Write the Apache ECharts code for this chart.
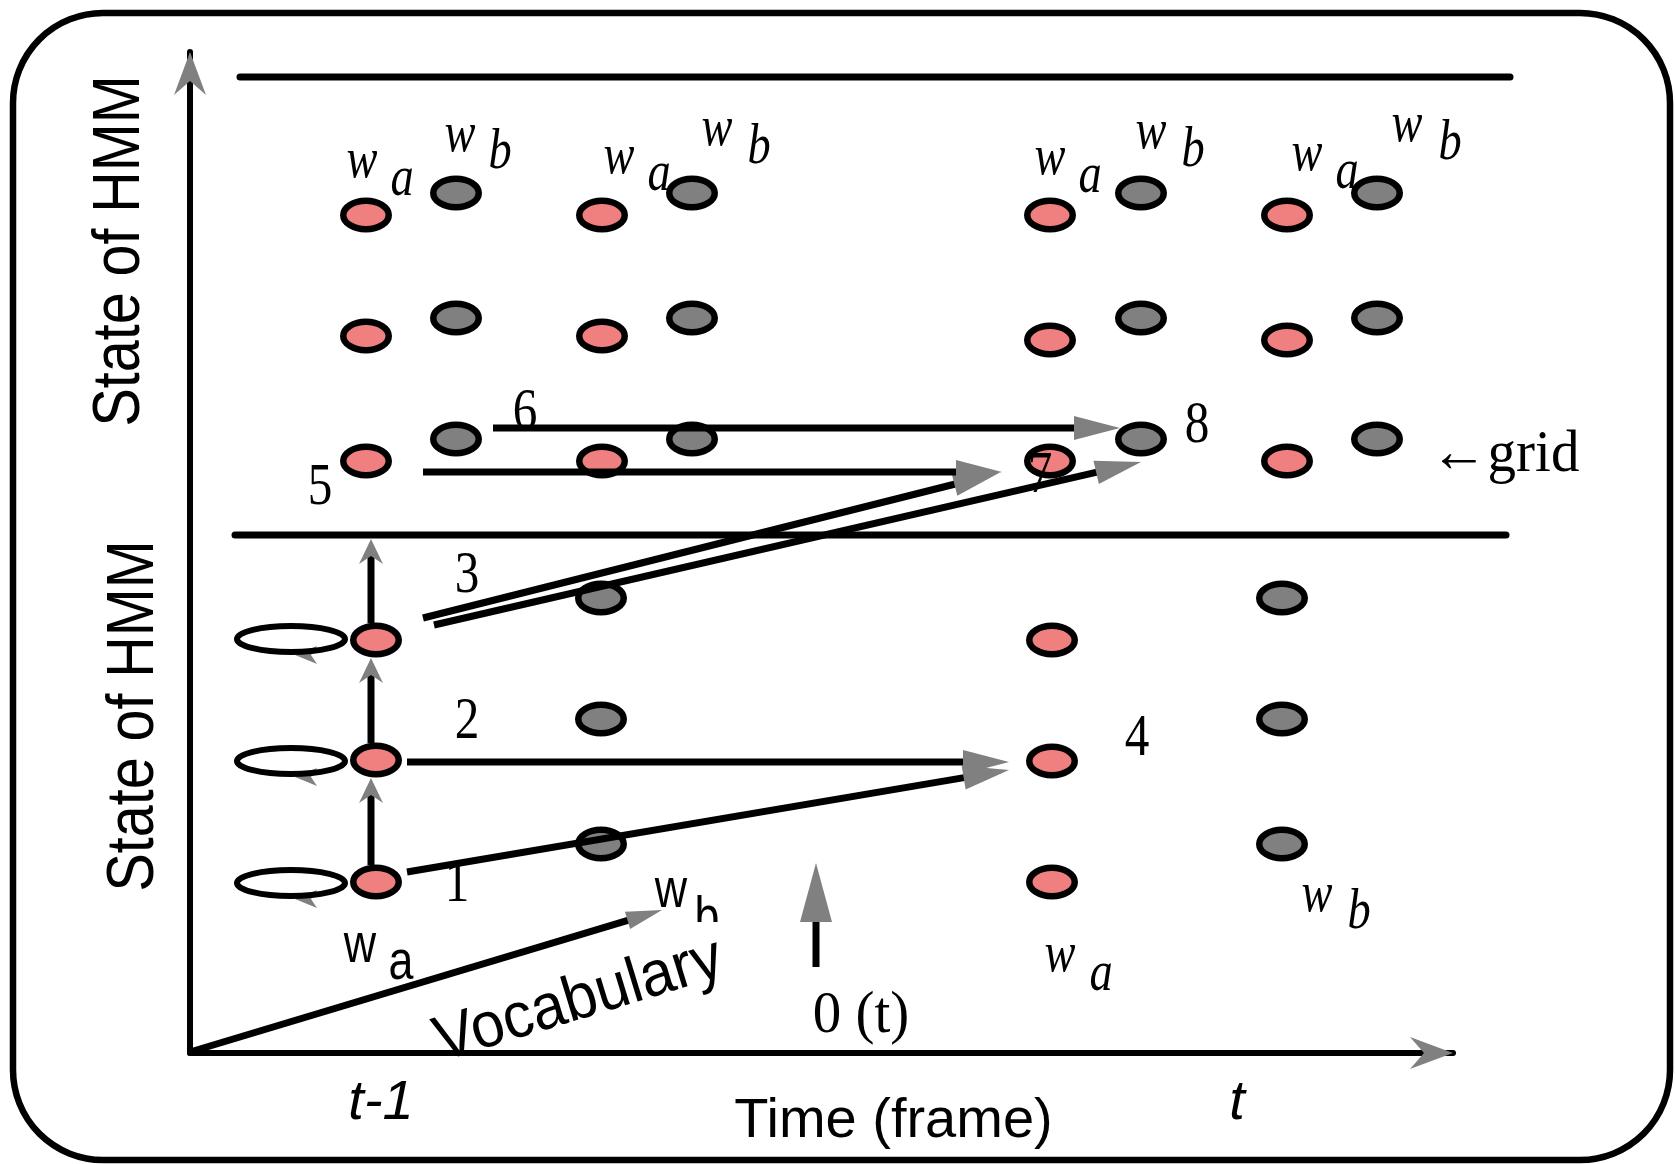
<!DOCTYPE html>
<html><head><meta charset="utf-8">
<script src="https://cdn.jsdelivr.net/npm/echarts@6/dist/echarts.min.js"></script>
<style>html,body{margin:0;padding:0;background:#fff}#chart{width:1675px;height:1164px}</style>
</head><body><div id="chart"></div>
<script>
// ---- Diagram data (plot units: x = time-frame position, y = HMM state position) ----
const timeTickValues = [191, 1047];
const timeTickLabels = ['t-1', 't'];
const timeAxisName = 'Time (frame)';

// HMM states of word a (red) and word b (grey)
const statesWordA = [
  [176,838],[412,838],[860,838],[1097,838],
  [176,717],[412,717],[860,713],[1097,713],
  [176,592],[412,592],[860,592],[1097,592],
  [186,413],[186,293],[186,171],
  [862,413],[862,292],[862,171]
];
const statesWordB = [
  [266,860],[502,860],[951,860],[1187,860],
  [266,735],[502,735],[951,735],[1187,735],
  [266,614],[502,614],[951,614],[1187,614],
  [411,455],[411,334],[411,209],
  [1092,455],[1092,334],[1092,209]
];
const selfLoops = [[101,414],[101,292],[101,170]];
const selfLoopHeads = [[128,398,105,398],[128,276,105,276],[128,154,105,154]];

// [x1, y1, x2, y2]
const separators = [[50,976,1320,976],[45,518,1316,518]];
const transitions = [
  [217,181,819,283],  // 1
  [217,291,819,291],  // 2
  [233,435,809,580],  // 3 -> 7
  [244,428,951,591],  // 3 -> 8
  [233,581,812,581],  // 5
  [303,625,930,625]   // 6
];
const stateSteps = [[181,188,181,275],[181,310,181,395],[181,430,181,514]];
const vocabularyAxis = [[0,1,472,143]];
const frameMarker = [[626,86,626,190]];
const axisHeads = [[0,958,0,1001],[1217,0,1263,0]];

// [x, y, text]
const stateWordLabels = [
  [172,891,'w'],[212,873,'a'],[270,917,'w'],[310,900,'b'],
  [429,895,'w'],[469,878,'a'],[527,923,'w'],[569,905,'b'],
  [860,894,'w'],[900,876,'a'],[961,920,'w'],[1003,902,'b'],
  [1117,898,'w'],[1157,880,'a'],[1217,927,'w'],[1260,909,'b'],
  [870,97,'w'],[911,78,'a'],[1127,157,'w'],[1169,140,'b']
];
const stepNumbers = [[267,168,'1'],[277,331,'2'],[277,477,'3'],[947,314,'4'],[130,565,'5'],[335,640,'6'],[850,577,'7'],[1007,627,'8']];
const serifNotes = [[671,37,'0 (t)'],[1315,598,'\u2190grid']];
const stateAxisTitles = [[-69,802,'State of HMM'],[-55,337,'State of HMM']];
const vocabularyWords = [[170,106,'w'],[211,89,'a'],[481,161,'w'],[517,133,'b']];
const vocabularyTitle = [[389,52,'Vocabulary']];

// ---- styles ----
const SANS = '"Liberation Sans", Arial, Helvetica, sans-serif';
const SERIF = '"Liberation Serif", "Times New Roman", serif';
const RED = '#f08080', GREY = '#808080';
const headKinds = {
  plain:      {len:0,  half:0,  notch:0,  lw:7, cap:'round'},
  transition: {len:46, half:12, notch:0,  lw:7},
  step:       {len:25, half:12, notch:8,  lw:7},
  loop:       {len:22, half:9,  notch:6,  lw:0},
  vocab:      {len:36, half:9,  notch:0,  lw:7},
  marker:     {len:59, half:16, notch:0,  lw:7},
  axis:       {len:43, half:16, notch:14, lw:0}
};
const textKinds = {
  wordSerif:  {family:SERIF, size:58, italic:true, scaleX:0.8},
  stepNumber: {family:SERIF, size:60, scaleX:0.82},
  serifNote:  {family:SERIF, size:60, scaleX:0.95},
  axisTitle:  {family:SANS, size:66, rotation:Math.PI/2, scaleX:0.87},
  wordSans:   {family:SANS, size:56, scaleX:0.8},
  vocab:      {family:SANS, size:64, rotation:17*Math.PI/180, scaleX:0.94}
};

const arrowItems = [].concat(
  separators.map(v => ({v, kind:'plain'})),
  transitions.map(v => ({v, kind:'transition'})),
  stateSteps.map(v => ({v, kind:'step'})),
  vocabularyAxis.map(v => ({v, kind:'vocab'})),
  frameMarker.map(v => ({v, kind:'marker'})),
  axisHeads.map(v => ({v, kind:'axis'}))
);

function arrowShapes(api, v, k) {
  const a = api.coord([v[0], v[1]]);
  const b = api.coord([v[2], v[3]]);
  const dx = b[0]-a[0], dy = b[1]-a[1];
  const L = Math.hypot(dx, dy) || 1;
  const ux = dx/L, uy = dy/L, nx = -uy, ny = ux;
  const out = [];
  let end = b;
  if (k.len) end = [b[0]-ux*(k.len-k.notch-(k.notch?0:2)), b[1]-uy*(k.len-k.notch-(k.notch?0:2))];
  if (k.lw > 0) out.push({type:'line', shape:{x1:a[0],y1:a[1],x2:end[0],y2:end[1]},
    style:{stroke:'#000', lineWidth:k.lw, lineCap:k.cap||'butt'}});
  if (k.len) {
    const bx = b[0]-ux*k.len, by = b[1]-uy*k.len;
    out.push({type:'polygon', shape:{points:[
      [b[0],b[1]], [bx+nx*k.half, by+ny*k.half],
      [bx+ux*k.notch, by+uy*k.notch], [bx-nx*k.half, by-ny*k.half]]},
      style:{fill:GREY}});
  }
  return out;
}

function textSeries(list, kindName, z, extra) {
  const s = textKinds[kindName];
  return {
    type:'custom', z, silent:true,
    data: list.map(d => [d[0], d[1]]),
    encode:{x:0, y:1},
    renderItem(params, api) {
      const d = list[params.dataIndex];
      const p = api.coord([d[0], d[1]]);
      const txt = {type:'text', x:p[0], y:p[1], rotation:s.rotation||0, scaleX:s.scaleX||1,
        style:{text:d[2], fontSize:s.size, fontFamily:s.family, fontStyle:s.italic?'italic':'normal',
          fill:'#000', align:'center', verticalAlign:'middle'}};
      if (extra) return {type:'group', children:[txt].concat(extra(d, p))};
      return txt;
    }
  };
}

function stateSeries(list, color) {
  return {
    type:'custom', z:3, silent:true,
    data:list, encode:{x:0, y:1},
    renderItem(params, api) {
      const p = api.coord([api.value(0), api.value(1)]);
      return {type:'ellipse', shape:{cx:p[0], cy:p[1], rx:22.75, ry:14.25},
        style:{fill:color, stroke:'#000', lineWidth:6.5}};
    }
  };
}

const chart = echarts.init(document.getElementById('chart'), null, {renderer:'canvas'});
chart.setOption({
  backgroundColor:'#fff',
  animation:false,
  graphic:[{type:'rect', z:-1, silent:true, shape:{x:13, y:13, width:1657, height:1147, r:90},
    style:{fill:'none', stroke:'#000', lineWidth:6.5}}],
  grid:{left:190, right:222, top:52, bottom:111, containLabel:false, outerBoundsMode:'none'},
  xAxis:{type:'value', min:0, max:1263,
    name:timeAxisName, nameLocation:'middle', nameGap:69, nameMoveOverlap:false,
    nameTextStyle:{fontSize:56, fontFamily:SANS, color:'#000', verticalAlign:'middle', padding:[0,0,0,144]},
    axisLine:{show:true, lineStyle:{color:'#000', width:6}},
    axisTick:{show:false}, splitLine:{show:false},
    axisLabel:{customValues:timeTickValues, fontSize:56, fontStyle:'italic', fontFamily:SANS, color:'#000',
      margin:50, verticalAlign:'middle',
      formatter:v => { const i = timeTickValues.indexOf(v); return i < 0 ? '' : timeTickLabels[i]; }}},
  yAxis:{type:'value', min:0, max:1001,
    axisLine:{show:true, lineStyle:{color:'#000', width:6}},
    axisTick:{show:false}, splitLine:{show:false}, axisLabel:{show:false}},
  series:[
    { type:'custom', z:2, silent:true, data:selfLoops, encode:{x:0, y:1},
      renderItem(params, api) {
        const p = api.coord([api.value(0), api.value(1)]);
        const h = selfLoopHeads[params.dataIndex];
        return {type:'group', children: arrowShapes(api, h, headKinds.loop).concat([
          {type:'ellipse', shape:{cx:p[0], cy:p[1], rx:54, ry:13}, style:{fill:'none', stroke:'#000', lineWidth:6}}])};
      }},
    stateSeries(statesWordA, RED),
    stateSeries(statesWordB, GREY),
    { type:'custom', z:4, silent:true,
      data: arrowItems.map(it => it.v), encode:{x:[0,2], y:[1,3]},
      renderItem(params, api) {
        const it = arrowItems[params.dataIndex];
        return {type:'group', children: arrowShapes(api, it.v, headKinds[it.kind])};
      }},
    textSeries(stateWordLabels, 'wordSerif', 5),
    textSeries(stepNumbers, 'stepNumber', 5),
    textSeries(serifNotes, 'serifNote', 5),
    textSeries(stateAxisTitles, 'axisTitle', 5),
    textSeries(vocabularyWords, 'wordSans', 5, (d, p) => d[2] === 'b'
      ? [{type:'rect', shape:{x:p[0]-20, y:p[1]+2, width:40, height:21}, style:{fill:'#fff'}}] : []),
    textSeries(vocabularyTitle, 'vocab', 6)
  ]
});
</script>
</body></html>
